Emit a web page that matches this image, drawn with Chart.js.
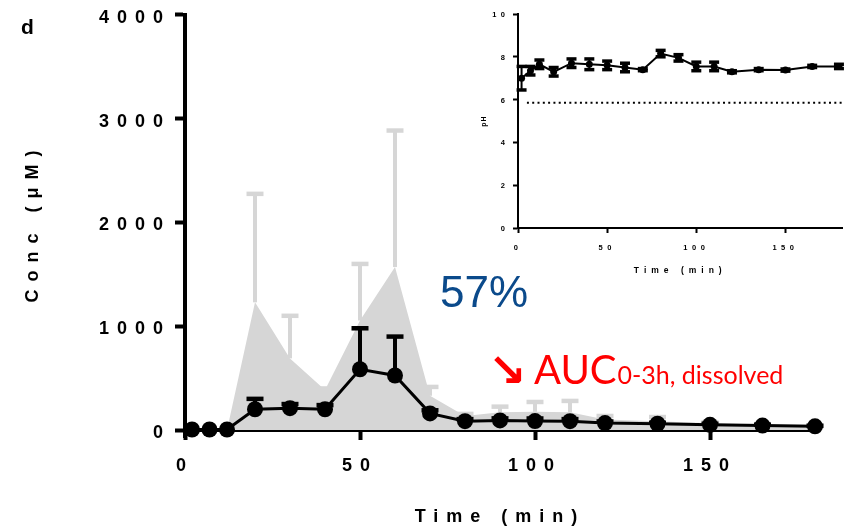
<!DOCTYPE html>
<html><head><meta charset="utf-8">
<script src="https://cdn.jsdelivr.net/npm/chart.js@4/dist/chart.umd.min.js"></script>
<style>
html,body{margin:0;padding:0;background:#fff;}
#wrap{position:relative;width:848px;height:529px;overflow:hidden;}
#main{position:absolute;left:0;top:0;}
#inset{position:absolute;left:480px;top:0;}
</style></head><body>
<div id="wrap">
<canvas id="main" width="848" height="529"></canvas>
<canvas id="inset" width="368" height="290"></canvas>
</div>
<script>
// ---- data ----
const times = [2, 7, 12, 20, 30, 40, 50, 60, 70, 80, 90, 100, 110, 120, 135, 150, 165, 180];
const concDissolved   = [5, 5, 5, 200, 210, 200, 585, 525, 160, 85, 92, 86, 85, 67, 60, 50, 43, 35];
const concDissolvedSD = [0, 0, 0, 100, 40, 40, 395, 375, 30, 20, 20, 25, 20, 15, 10, 10, 8, 5];
const concTotal       = [0, 0, 0, 1230, 690, 385, 1055, 1570, 330, 135, 170, 175, 170, 100, 85, 65, 52, 40];
const concTotalSD     = [0, 0, 0, 1045, 410, 15, 545, 1315, 85, 20, 55, 95, 110, 35, 40, 10, 5, 5];
const pH   = [7.0, 7.35, 7.65, 7.3, 7.7, 7.65, 7.6, 7.5, 7.4, 8.15, 7.95, 7.55, 7.55, 7.3, 7.4, 7.38, 7.55, 7.55];
const pHSD = [0.55, 0.2, 0.2, 0.2, 0.2, 0.25, 0.2, 0.2, 0.05, 0.15, 0.15, 0.2, 0.2, 0.05, 0.05, 0.05, 0.05, 0.1];
const pHLimit = 5.85;
const pHLimitRange = [5, 182];
const concTicks = [0, 1000, 2000, 3000, 4000];
const timeTicks = [0, 50, 100, 150];
const pHTicks = [0, 2, 4, 6, 8, 10];

const FONT = "'Liberation Sans', Arial, Helvetica, sans-serif";
Chart.defaults.font.family = FONT;
Chart.defaults.color = '#000';

const pts = (xs, ys) => xs.map((x, i) => ({x, y: ys[i]}));
const plain = v => String(v);

// letter spacing per scale (ticks/title)
function spacingPlugin(cfg) {
  return {
    id: 'spacing',
    beforeDraw(chart) {
      Object.values(chart.scales).forEach(s => {
        if (s.__ls) return;
        const c = cfg[s.id]; if (!c) return;
        const dl = s.drawLabels, dt = s.drawTitle;
        s.drawLabels = function (a) { const x = this.ctx, o = x.letterSpacing; x.letterSpacing = c.ticks; dl.call(this, a); x.letterSpacing = o; };
        s.drawTitle = function (a) { const x = this.ctx, o = x.letterSpacing; x.letterSpacing = c.title; dt.call(this, a); x.letterSpacing = o; };
        s.__ls = true;
      });
    }
  };
}

function drawErr(chart, ds) {
  const ctx = chart.ctx, xs = chart.scales.x, ys = chart.scales.y;
  ctx.save();
  ctx.strokeStyle = ds.errColor; ctx.lineWidth = ds.errWidth; ctx.lineCap = 'butt';
  ds.data.forEach((p, i) => {
    const sd = ds.sd[i]; if (!sd) return;
    const x = xs.getPixelForValue(p.x);
    const yc = ys.getPixelForValue(p.y);
    const dirs = ds.errBoth ? [1, -1] : [1];
    dirs.forEach(d => {
      const ye = ys.getPixelForValue(p.y + d * sd);
      ctx.beginPath(); ctx.moveTo(x, yc); ctx.lineTo(x, ye); ctx.stroke();
      ctx.save(); ctx.lineWidth = ds.capThick;
      ctx.beginPath(); ctx.moveTo(x - ds.capWidth / 2, ye); ctx.lineTo(x + ds.capWidth / 2, ye); ctx.stroke();
      ctx.restore();
    });
  });
  ctx.restore();
}
const errorBars = {
  id: 'errorBars',
  beforeDatasetDraw(chart, args) { const ds = chart.data.datasets[args.index]; if (ds.sd && ds.errWhen === 'before') drawErr(chart, ds); },
  afterDatasetDraw(chart, args) { const ds = chart.data.datasets[args.index]; if (ds.sd && ds.errWhen === 'after') drawErr(chart, ds); }
};

const mainExtras = {
  id: 'mainExtras',
  afterDraw(chart) {
    const ctx = chart.ctx, a = chart.chartArea;
    ctx.save();
    ctx.letterSpacing = '0px';
    // y axis small extension below the x axis
    ctx.strokeStyle = '#000'; ctx.lineWidth = 4;
    ctx.beginPath(); ctx.moveTo(a.left, a.bottom); ctx.lineTo(a.left, a.bottom + 8); ctx.stroke();
    ctx.textBaseline = 'alphabetic'; ctx.textAlign = 'left';
    ctx.fillStyle = '#000'; ctx.font = "bold 21px " + FONT;
    ctx.fillText('d', 21, 34);
    ctx.fillStyle = '#0b4a8b'; ctx.font = "44px " + FONT;
    ctx.fillText('57%', 440, 307);
    ctx.fillStyle = '#ff0000';
    ctx.font = "bold 46px 'DejaVu Sans'";
    ctx.fillText('\u2198', 488, 386);
    ctx.font = "40px Lato, " + FONT;
    ctx.fillText('AUC', 534, 384);
    const w = ctx.measureText('AUC').width;
    ctx.font = "25px Lato, " + FONT;
    ctx.fillText('0-3h, dissolved', 534 + w + 1, 384);
    ctx.restore();
  }
};

new Chart(document.getElementById('main'), {
  type: 'line',
  data: {
    datasets: [
      { label: 'total', data: pts(times, concTotal), sd: concTotalSD, errWhen: 'after',
        errColor: '#d6d6d6', errWidth: 4, capWidth: 17, capThick: 4.5,
        fill: 'origin', backgroundColor: '#d6d6d6', borderColor: '#d6d6d6', borderWidth: 0,
        pointRadius: 0, order: 2, clip: false, tension: 0 },
      { label: 'dissolved', data: pts(times, concDissolved), sd: concDissolvedSD, errWhen: 'before',
        errColor: '#000', errWidth: 4, capWidth: 17, capThick: 4.5,
        fill: false, borderColor: '#000', borderWidth: 3, pointRadius: 8, pointBackgroundColor: '#000',
        pointBorderWidth: 0, order: 1, clip: false, tension: 0 }
    ]
  },
  options: {
    responsive: false, animation: false, devicePixelRatio: 1,
    layout: { padding: { left: 0, top: 12, right: 33, bottom: 0 } },
    plugins: { legend: { display: false }, tooltip: { enabled: false } },
    scales: {
      x: {
        type: 'linear', min: 0, max: 180,
        afterBuildTicks: s => { s.ticks = timeTicks.map(v => ({ value: v })); },
        afterFit: s => { s.height = 99; },
        border: { display: true, color: '#000', width: 4 },
        grid: { display: true, drawOnChartArea: false, drawTicks: true, tickLength: 10, tickWidth: 4, tickColor: '#000', color: '#000' },
        ticks: { color: '#000', font: { size: 18, weight: 'bold' }, padding: 15, maxRotation: 0, autoSkip: false, callback: plain },
        title: { display: true, text: 'Time (min)', color: '#000', font: { size: 18, weight: 'bold' }, padding: { top: 0, bottom: 1.5 } }
      },
      y: {
        type: 'linear', min: 0, max: 4000,
        afterBuildTicks: s => { s.ticks = concTicks.map(v => ({ value: v })); },
        afterFit: s => { s.width = 185; },
        border: { display: true, color: '#000', width: 4 },
        grid: { display: true, drawOnChartArea: false, drawTicks: true, tickLength: 10, tickWidth: 4, tickColor: '#000', color: '#000' },
        ticks: { color: '#000', font: { size: 18, weight: 'bold' }, padding: 4, labelOffset: 3, autoSkip: false, callback: plain },
        title: { display: true, text: 'Conc (\u03bcM)', color: '#000', font: { size: 18, weight: 'bold' }, padding: { top: 22, bottom: 0 } }
      }
    }
  },
  plugins: [spacingPlugin({ x: { ticks: '8px', title: '8px' }, y: { ticks: '8px', title: '8px' } }), errorBars, mainExtras]
});

new Chart(document.getElementById('inset'), {
  type: 'line',
  data: {
    datasets: [
      { label: 'pH', data: pts(times, pH), sd: pHSD, errBoth: true, errWhen: 'after',
        errColor: '#000', errWidth: 2, capWidth: 10, capThick: 3.5,
        borderColor: '#000', borderWidth: 2, pointRadius: 3.5, pointBackgroundColor: '#000', pointBorderWidth: 0,
        fill: false, clip: false, tension: 0 },
      { label: 'limit', data: pts(pHLimitRange, pHLimitRange.map(() => pHLimit)),
        borderColor: '#000', borderWidth: 2, borderDash: [2, 3.3], pointRadius: 0, fill: false, tension: 0 }
    ]
  },
  options: {
    responsive: false, animation: false, devicePixelRatio: 1,
    layout: { padding: { left: 0, top: 14, right: 5.5, bottom: 0 } },
    plugins: { legend: { display: false }, tooltip: { enabled: false } },
    scales: {
      x: {
        type: 'linear', min: 0, max: 182,
        afterBuildTicks: s => { s.ticks = timeTicks.map(v => ({ value: v })); },
        afterFit: s => { s.height = 62; },
        border: { display: true, color: '#000', width: 2 },
        grid: { display: true, drawOnChartArea: false, drawTicks: true, tickLength: 5, tickWidth: 2, tickColor: '#000', color: '#000' },
        ticks: { color: '#000', font: { size: 7.5, weight: 'bold' }, padding: 10.5, maxRotation: 0, autoSkip: false, callback: plain },
        title: { display: true, text: 'Time (min)', color: '#000', font: { size: 8.5, weight: 'bold' }, padding: { top: 0, bottom: 14 } }
      },
      y: {
        type: 'linear', min: 0, max: 10,
        afterBuildTicks: s => { s.ticks = pHTicks.map(v => ({ value: v })); },
        afterFit: s => { s.width = 38; },
        border: { display: true, color: '#000', width: 2 },
        grid: { display: true, drawOnChartArea: false, drawTicks: true, tickLength: 5, tickWidth: 2, tickColor: '#000', color: '#000' },
        ticks: { color: '#000', font: { size: 7.5, weight: 'bold' }, padding: 3.5, labelOffset: 1, autoSkip: false, callback: plain },
        title: { display: true, text: 'pH', color: '#000', font: { size: 7, weight: 'bold' }, padding: { top: 0, bottom: 0 } }
      }
    }
  },
  plugins: [spacingPlugin({ x: { ticks: '4.5px', title: '5px' }, y: { ticks: '4.5px', title: '1px' } }), errorBars]
});
</script>
</body></html>
